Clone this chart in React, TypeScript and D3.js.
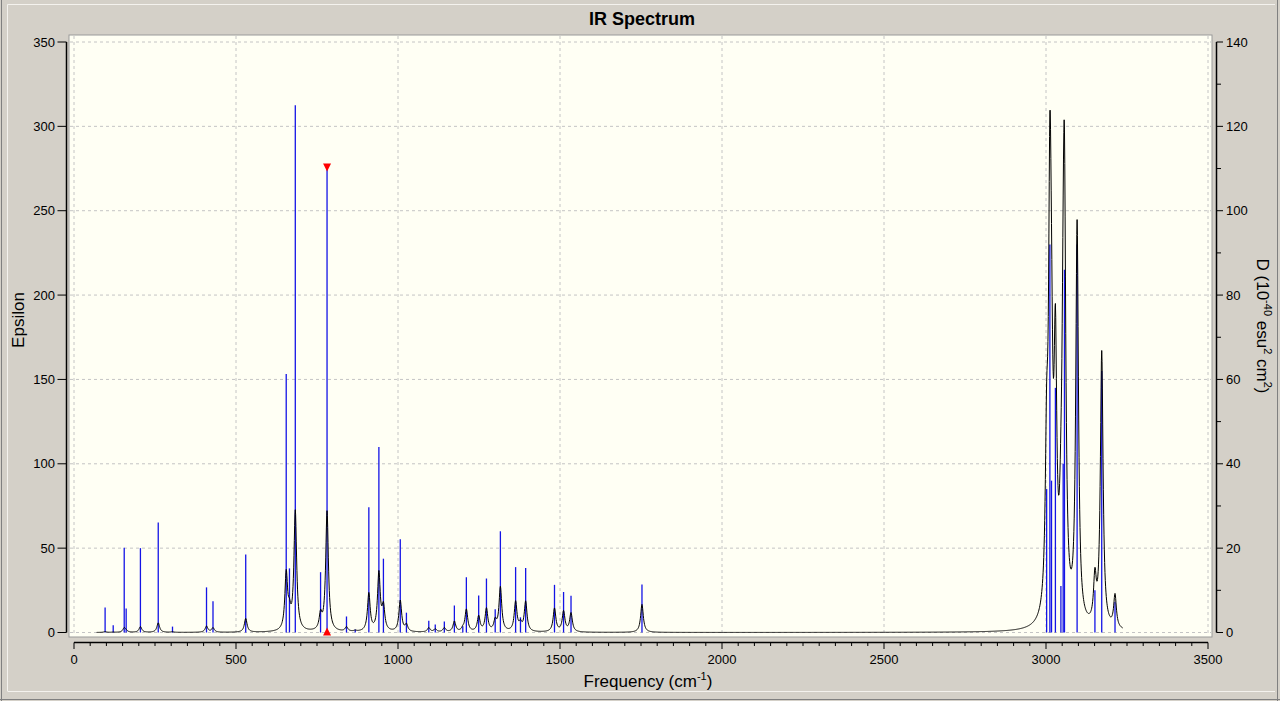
import React from "react";
import * as d3 from "d3";

// ---- data ----
const stickFreq = [96, 121, 155, 161, 205, 260, 304, 409, 429, 530, 655, 665, 683, 761, 781, 841, 868,
  910, 941, 955, 1007, 1026, 1095, 1115, 1143, 1174, 1200, 1211, 1249, 1273, 1300, 1316, 1363, 1378, 1394,
  1483, 1511, 1534, 1753,
  3002, 3012, 3017, 3029, 3046, 3053, 3057, 3096, 3151, 3172, 3213];
const stickD = [5.9, 1.7, 20.1, 5.7, 20.0, 26.1, 1.4, 10.7, 7.4, 18.5, 61.3, 15.2, 125, 14.3, 110, 3.8, 0.7,
  29.7, 44, 17.5, 22.1, 4.7, 2.8, 1.9, 2.6, 6.4, 1.5, 13.1, 8.8, 12.8, 5.5, 24, 15.5, 3.6, 15.3,
  11.3, 9.6, 8.7, 11.4,
  34, 92, 36, 58, 11, 40, 86, 92, 10, 62, 7.3];
const selectedFreq = 781;
const curveRange = [70, 3237];
const curveStep = 1;
const epsPerDnu = 8.3e-4; // epsilon peak = factor * freq * D
const hwhm = 5;

const xTicks = [0, 500, 1000, 1500, 2000, 2500, 3000, 3500];
const leftTicks = [0, 50, 100, 150, 200, 250, 300, 350];
const rightTicks = [0, 20, 40, 60, 80, 100, 120, 140];

const FONT = "'Liberation Sans', Arial, sans-serif";

export default function App() {
  const W = 1280, H = 701;
  const x = d3.scaleLinear().domain([0, 3500]).range([74, 1208]);
  const yL = d3.scaleLinear().domain([0, 350]).range([632.5, 42]);
  const yR = d3.scaleLinear().domain([0, 140]).range([632.5, 42]);

  const curve: [number, number][] = [];
  for (let f = curveRange[0]; f <= curveRange[1]; f += curveStep) {
    let e = 0;
    for (let i = 0; i < stickFreq.length; i++) {
      const d = f - stickFreq[i];
      e += epsPerDnu * stickFreq[i] * stickD[i] * (hwhm * hwhm) / (d * d + hwhm * hwhm);
    }
    curve.push([f, e]);
  }
  const line = d3.line<[number, number]>().x(d => x(d[0])).y(d => yL(d[1]));

  const plotL = 69, plotR = 1212, plotT = 35, plotB = 637;
  const selIdx = stickFreq.indexOf(selectedFreq);
  const sx = x(selectedFreq);
  const sTop = yR(stickD[selIdx]);

  const minorX = d3.range(0, 3501, 50);
  const minorR = d3.range(0, 141, 10);

  return (
    <div style={{ position: "absolute", left: 0, top: 0 }}>
      <style>{`body{margin:0}`}</style>
      <svg width={W} height={H} style={{ display: "block", fontFamily: FONT }}>
        <rect x={0} y={0} width={W} height={H} fill="#D4D0C8" />
        <line x1={1.5} y1={0} x2={1.5} y2={H} stroke="#808080" />
        <line x1={W - 2.5} y1={0} x2={W - 2.5} y2={H} stroke="#808080" />
        <line x1={7.5} y1={4.5} x2={W - 5} y2={4.5} stroke="#F4F2EE" />
        <line x1={7.5} y1={4.5} x2={7.5} y2={691} stroke="#F4F2EE" />
        <line x1={7.5} y1={691.5} x2={W - 5} y2={691.5} stroke="#F4F2EE" />
        <line x1={0} y1={H - 1.5} x2={W} y2={H - 1.5} stroke="#808080" />

        <text x={642} y={25} textAnchor="middle" fontSize={18} fontWeight="bold">IR Spectrum</text>

        {/* plot area */}
        <rect x={plotL} y={plotT} width={plotR - plotL} height={plotB - plotT} fill="#FFFFF4" stroke="#9A9A9A" />

        {/* grid */}
        {xTicks.map(t => (
          <line key={"gx" + t} x1={x(t)} x2={x(t)} y1={plotT + 1} y2={plotB - 1} stroke="#C4C4C4" strokeDasharray="3,3" />
        ))}
        {leftTicks.map(t => (
          <line key={"gy" + t} x1={plotL + 1} x2={plotR - 1} y1={yL(t)} y2={yL(t)} stroke="#C4C4C4" strokeDasharray="3,3" />
        ))}

        {/* sticks */}
        {stickFreq.map((f, i) => (
          <line key={"s" + i} x1={x(f)} x2={x(f)} y1={yR(0)} y2={yR(stickD[i])} stroke="#1414E6" strokeWidth={1.3} />
        ))}

        {/* broadened spectrum */}
        <path d={line(curve) || ""} fill="none" stroke="#000" strokeWidth={1} strokeLinejoin="round" />

        {/* selected peak markers */}
        <path d={`M${sx - 4},${sTop - 5} L${sx + 4},${sTop - 5} L${sx},${sTop + 3} Z`} fill="#FF0000" />
        <path d={`M${sx - 4},${yR(0) + 3} L${sx + 4},${yR(0) + 3} L${sx},${yR(0) - 5} Z`} fill="#FF0000" />

        {/* left axis */}
        <line x1={66.5} x2={66.5} y1={yL(350)} y2={yL(0)} stroke="#000" strokeWidth={1.5} />
        {leftTicks.map(t => (
          <g key={"lt" + t}>
            <line x1={57.5} x2={66.5} y1={yL(t)} y2={yL(t)} stroke="#000" />
            <text x={55} y={yL(t) + 4.5} textAnchor="end" fontSize={13}>{t}</text>
          </g>
        ))}
        <text transform={`translate(24,320) rotate(-90)`} textAnchor="middle" fontSize={17}>Epsilon</text>

        {/* right axis */}
        <line x1={1216.5} x2={1216.5} y1={yR(140)} y2={yR(0)} stroke="#000" strokeWidth={1.5} />
        {minorR.map(t => (
          <line key={"rm" + t} x1={1216.5} x2={t % 20 === 0 ? 1223 : 1221} y1={yR(t)} y2={yR(t)} stroke="#000" />
        ))}
        {rightTicks.map(t => (
          <text key={"rt" + t} x={1226} y={yR(t) + 4.5} fontSize={13}>{t}</text>
        ))}
        <text transform={`translate(1257,326) rotate(90)`} textAnchor="middle" fontSize={17}>
          D (10<tspan dy={-7} fontSize={11}>-40</tspan><tspan dy={7}> esu</tspan><tspan dy={-7} fontSize={11}>2</tspan><tspan dy={7}> cm</tspan><tspan dy={-7} fontSize={11}>2</tspan><tspan dy={7}>)</tspan>
        </text>

        {/* bottom axis */}
        <line x1={x(0)} x2={x(3500)} y1={642.5} y2={642.5} stroke="#000" strokeWidth={1.5} />
        {minorX.map(t => (
          <line key={"bm" + t} x1={x(t)} x2={x(t)} y1={642.5} y2={t % 500 === 0 ? 649 : 646} stroke="#000" />
        ))}
        {xTicks.map(t => (
          <text key={"bt" + t} x={x(t)} y={664} textAnchor="middle" fontSize={13}>{t}</text>
        ))}
        <text x={648} y={687} textAnchor="middle" fontSize={17}>
          Frequency (cm<tspan dy={-7} fontSize={11}>-1</tspan><tspan dy={7}>)</tspan>
        </text>
      </svg>
    </div>
  );
}
